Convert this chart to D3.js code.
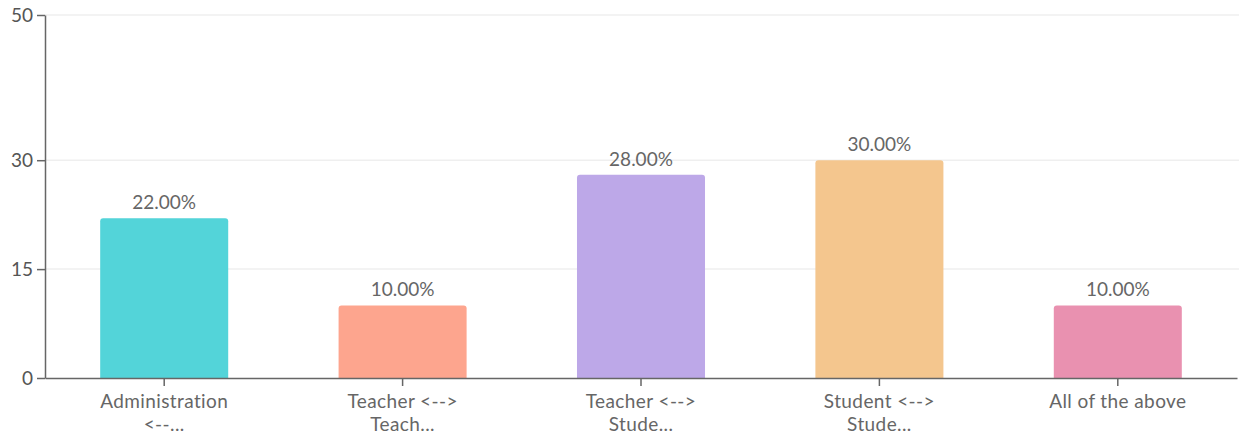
<!DOCTYPE html>
<html><head><meta charset="utf-8">
<script src="https://cdn.jsdelivr.net/npm/d3@7"></script>
<style>body{margin:0;background:#fff;}svg{display:block;font-family:"Source Sans Pro",Lato,"Noto Sans",sans-serif;}</style>
</head><body>
<svg id="c" width="1239" height="434"></svg>
<script>
const categories = ["Administration <--...", "Teacher <--> Teach...", "Teacher <--> Stude...", "Student <--> Stude...", "All of the above"];
const labelLines = [["Administration","<--..."],["Teacher <-->","Teach..."],["Teacher <-->","Stude..."],["Student <-->","Stude..."],["All of the above"]];
const values = [22, 10, 28, 30, 10];
const colors = ["#53d4d9", "#fda58e", "#bda8e8", "#f4c68e", "#e991b0"];
const yTicks = [0, 15, 30, 50];

(function() {
const svg = d3.select("#c");
const mLeft = 45, mRight = 1237, mTop = 15, mBottom = 378;
const x = d3.scaleBand().domain(categories).range([mLeft, mRight]).padding(0);
const y = d3.scaleLinear().domain([0, 50]).range([mBottom, mTop]);
const barW = x.bandwidth() * 0.537;

// gridlines
svg.append("g").selectAll("line").data(yTicks.filter(d => d > 0)).join("line")
  .attr("x1", mLeft).attr("x2", 1239).attr("y1", d => y(d)).attr("y2", d => y(d))
  .attr("stroke", "#efefef").attr("stroke-width", 1.5);

// bars
const r = 3;
svg.append("g").selectAll("path").data(values).join("path")
  .attr("fill", (d, i) => colors[i])
  .attr("d", (d, i) => {
    const x0 = x(categories[i]) + (x.bandwidth() - barW) / 2, x1 = x0 + barW;
    const yt = y(d), yb = y(0);
    return `M${x0},${yb}V${yt + r}Q${x0},${yt} ${x0 + r},${yt}H${x1 - r}Q${x1},${yt} ${x1},${yt + r}V${yb}Z`;
  });

// value labels
svg.append("g").selectAll("text").data(values).join("text")
  .attr("x", (d, i) => x(categories[i]) + x.bandwidth() / 2)
  .attr("y", d => y(d) - 9)
  .attr("text-anchor", "middle").attr("fill", "#666").attr("font-size", 19)
  .text(d => d.toFixed(2) + "%");

// y axis
const ya = svg.append("g").attr("transform", `translate(${mLeft},0)`)
  .call(d3.axisLeft(y).tickValues(yTicks).tickSize(8).tickSizeOuter(0).tickPadding(4));
ya.attr("font-family", null);
ya.select(".domain").attr("stroke", "#666").attr("stroke-width", 1.5);
ya.selectAll(".tick line").attr("stroke", "#666").attr("stroke-width", 1.5);
ya.selectAll(".tick text").attr("fill", "#555").attr("font-size", 19);

// x axis
const xa = svg.append("g").attr("transform", `translate(0,${mBottom})`)
  .call(d3.axisBottom(x).tickSize(8).tickSizeOuter(0).tickFormat(""));
xa.attr("font-family", null);
xa.select(".domain").attr("stroke", "#666").attr("stroke-width", 1.5);
xa.selectAll(".tick line").attr("stroke", "#666").attr("stroke-width", 1.5);
xa.selectAll(".tick").each(function(d, i) {
  const t = d3.select(this).append("text").attr("fill", "#666").attr("font-size", 19)
    .attr("letter-spacing", 0.4).attr("text-anchor", "middle").attr("y", 30);
  labelLines[i].forEach((s, j) => t.append("tspan").attr("x", 0).attr("dy", j === 0 ? 0 : 23).text(s));
});
})();
</script>
</body></html>
